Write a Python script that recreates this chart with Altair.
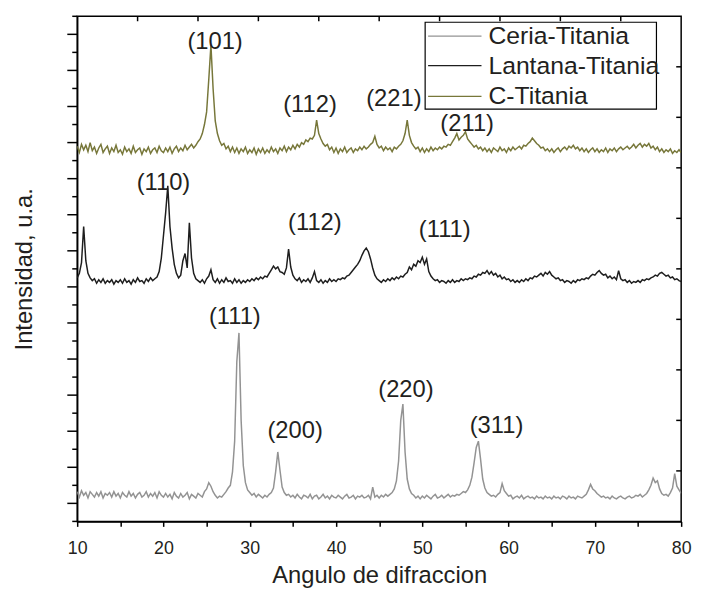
import altair as alt
import pandas as pd

# ---------------- data ----------------
SERIES = ["Ceria-Titania", "Lantana-Titania", "C-Titania"]
COLORS = ["#939393", "#1e1e1e", "#77773a"]
OFFSETS = [27, 267, 412]          # vertical stacking offsets (a.u.)
ANGLE_START = 10.0                # scan grid start (2theta)
ANGLE_STEP = 0.25                 # scan grid step

ceria = [
    6, 0, 7, 2, 5, -1, 6, 3, 0, 5, 1, 6, -1, 4, 2, 5, 0, 6, 1, 4,
    -1, 5, 2, 0, 6, 1, 4, -1, 3, 5, 0, 2, 6, 0, 4, 1, 5, -1, 6, 2,
    0, 4, 0, 3, -2, 5, 1, -1, 4, 0, 2, 5, -2, 3, 1, -1, 4, 2, 0, 6,
    9, 16, 12, 6, 2, -1, 1, 0, 3, 6, 10, 13, 28, 62, 150, 182, 85, 35, 16, 8,
    5, 2, 4, 0, 3, 1, -1, 2, 0, 3, 5, 10, 28, 50, 30, 11, 5, 2, 3, 0,
    2, -1, 3, 0, -2, 2, 1, -1, 3, -2, 1, 2, -2, 0, 3, -1, 1, -2, 2, 0,
    -1, 2, 0, -2, 1, 3, -1, 0, 2, -2, 1, 0, 2, -1, 0, 2, -2, 11, 0, 2,
    -1, 2, 0, 3, 1, 3, 5, 9, 18, 40, 85, 103, 50, 20, 9, 4, 2, -1, 1, -2,
    1, -1, 2, 0, -2, 1, 3, -1, 0, 2, -1, 1, 3, 0, 2, 1, 3, 2, 4, 6,
    5, 8, 13, 22, 38, 55, 62, 42, 20, 10, 5, 3, 1, 2, 0, 3, 5, 15, 7, 4,
    1, 2, -2, 0, 1, -1, 2, -2, 0, 1, -1, 0, -2, 1, -1, 0, -2, 1, -1, 0,
    -2, 1, -1, 0, -2, 1, 0, -2, 1, -1, 0, -2, 1, 0, -1, 1, 3, 8, 14, 9,
    7, 4, 2, 0, 1, -1, 0, -2, 1, -1, -2, 0, 1, -1, -2, 0, 1, -1, 0, 2,
    1, 3, 0, 2, 4, 8, 13, 21, 16, 18, 9, 4, 2, 3, 1, 5, 10, 26, 12, 8,
    4,
]

lantana = [
    3, 8, 20, 60, 22, 8, 3, 0, 2, -3, 1, -2, 2, -3, 0, -2, 1, -4, 0, -2,
    1, -3, 2, -2, 0, -4, 1, -2, 3, -1, 0, -3, 2, -1, 3, 0, 2, 4, 10, 25,
    50, 75, 105, 60, 36, 18, 8, 3, 6, 22, 30, 14, 64, 25, 8, 2, 0, -2, 1, -3,
    2, 5, 12, 1, -2, 2, -3, 1, -2, 3, -1, 0, -3, 2, -2, 1, -3, 0, -2, 1,
    -1, 2, 0, 3, 1, 4, 2, 5, 4, 8, 12, 16, 13, 15, 10, 9, 7, 14, 35, 15,
    6, 2, 0, 3, -2, 1, -1, 2, -2, 3, 10, 0, -2, 1, -3, 0, -2, 2, -1, 1,
    -1, 2, 1, 3, 2, 5, 6, 9, 12, 15, 18, 22, 28, 33, 36, 32, 24, 14, 6, 2,
    0, -2, 1, -1, 2, 0, 3, 1, 4, 2, 5, 4, 7, 9, 15, 12, 18, 16, 22, 20,
    26, 18, 24, 10, 5, 2, 0, 1, -2, 0, -1, -3, 0, -2, 1, -2, 0, -1, 2, 0,
    2, 1, 3, 2, 5, 4, 7, 6, 9, 8, 11, 7, 10, 6, 8, 4, 6, 2, 4, 1,
    2, -1, 1, -2, 0, -2, 1, -1, 2, 0, 3, 2, 5, 4, 6, 8, 5, 9, 7, 10,
    6, 4, 2, 3, 0, 1, -2, 0, -1, -3, 0, -2, 1, 0, 2, 1, 3, 2, 5, 7,
    6, 9, 11, 8, 6, 7, 3, 5, 2, 4, 1, 11, 2, 0, 1, -2, 0, -3, -1, -2,
    0, -2, 1, 0, 2, 1, 3, 4, 6, 5, 8, 9, 7, 5, 6, 3, 4, 1, 2, 0,
    -1,
]

c_titania = [
    4, -3, 6, 0, 5, -2, 8, -1, 3, -4, 2, 6, -3, 1, 4, -4, 2, -2, 5, -3,
    0, -5, 3, -2, 1, -4, 4, -3, 0, 2, -5, 1, -2, 3, -4, 0, 2, -3, 4, -1,
    -3, 2, -2, 3, -4, 1, 4, -2, 2, -1, 5, 0, 3, 6, 2, 5, 9, 12, 18, 28,
    42, 78, 116, 68, 32, 18, 10, 5, 7, 1, 4, -2, 3, -3, 2, -4, 1, -2, 3, -4,
    0, -3, 2, -5, 1, -3, 2, -4, 0, -3, 3, -2, 1, -4, 2, -1, 4, -2, 3, 0,
    5, 1, 6, 3, 8, 6, 11, 9, 13, 12, 16, 33, 18, 12, 7, 4, 6, 0, 3, -3,
    2, -4, 1, -2, 3, -3, 0, 2, -3, 1, -1, 3, 0, 4, 1, 3, 6, 8, 15, 6,
    2, 4, -1, 3, 0, 2, -2, 3, 1, 4, 6, 10, 18, 33, 16, 8, 4, 1, 3, -2,
    2, -3, 1, -2, 3, -1, 2, 0, 3, 1, 4, 3, 6, 5, 9, 13, 18, 11, 14, 16,
    20, 12, 9, 6, 3, 5, 1, 3, -1, 2, -2, 1, -3, 2, 0, -2, 3, -1, 1, -3,
    2, -1, 3, 0, 2, 4, 1, 5, 4, 7, 9, 13, 10, 7, 5, 2, 3, -1, 1, -2,
    1, -3, 0, 2, -2, 1, 3, 0, 4, 2, 5, 1, 3, -1, 2, -2, 1, -3, 0, 2,
    -2, 1, -3, 0, -2, 2, -3, 1, -1, 2, -2, 1, 3, 0, 2, 4, 1, 3, 6, 2,
    5, 7, 3, 6, 4, 7, 2, 4, 0, 3, -2, 1, -3, 0, -2, 1, -4, -1, -3, 0,
    -3,
]

PEAK_LABELS = ["(101)", "(112)", "(221)", "(211)",
               "(110)", "(112)", "(111)",
               "(111)", "(200)", "(220)", "(311)"]
PEAK_ANGLE = [25.98, 36.98, 46.7, 55.2,
              20.0, 37.55, 52.6,
              28.27, 35.26, 48.1, 58.6]
PEAK_LEVEL = [531, 462, 468, 440,
              375, 331, 323,
              227, 100, 146, 106]

LEFT_MAJOR = list(range(20, 560, 40))
LEFT_MINOR = list(range(0, 561, 40))
RIGHT_TICKS = [56, 112, 168, 224, 280, 336, 392, 448, 504]
TOP_TICKS = [17, 24, 31, 38, 45, 52, 59, 66, 73]
BOTTOM_TICKS = list(range(10, 81, 5))

# ---------------- build table ----------------
rows = []
for name, off, vals in zip(SERIES, OFFSETS, [ceria, lantana, c_titania]):
    for i, v in enumerate(vals):
        rows.append({"series": name,
                     "angle": ANGLE_START + ANGLE_STEP * i,
                     "intensity": v + off})
df = pd.DataFrame(rows)

FONT = "Liberation Sans"
TXT = "#231f20"
xscale = alt.Scale(domain=[10, 80], nice=False, zero=False)
yscale = alt.Scale(domain=[0, 560], nice=False, zero=False)

lines = alt.Chart(df).mark_line(strokeWidth=1.5, clip=True).encode(
    x=alt.X("angle:Q", scale=xscale,
            axis=alt.Axis(values=BOTTOM_TICKS,
                          labelExpr="datum.value % 10 == 0 ? datum.label : ''",
                          tickSize=5, tickWidth=1.5, tickColor="black",
                          domainColor="black", domainWidth=1.5,
                          labelFont=FONT, labelFontSize=18, labelColor=TXT,
                          labelPadding=13, labelFlush=False, grid=False,
                          title="Angulo de difraccion", titleFont=FONT,
                          titleFontSize=24, titleFontWeight="normal",
                          titleColor=TXT, titlePadding=7)),
    y=alt.Y("intensity:Q", scale=yscale,
            axis=alt.Axis(labels=False, ticks=False,
                          domainColor="black", domainWidth=1.5, grid=False,
                          title="Intensidad, u.a.", titleFont=FONT,
                          titleFontSize=24, titleFontWeight="normal",
                          titleColor=TXT, titlePadding=41)),
    color=alt.Color("series:N",
                    scale=alt.Scale(domain=SERIES, range=COLORS),
                    legend=None),
)


def tick_rules(values, field, **enc):
    return alt.Chart(pd.DataFrame({field: values})).mark_rule(
        color="black", strokeWidth=1.5).encode(**enc)


left_major = tick_rules(LEFT_MAJOR, "intensity",
                        y=alt.Y("intensity:Q", scale=yscale),
                        x=alt.value(-10), x2=alt.value(0))
left_minor = tick_rules(LEFT_MINOR, "intensity",
                        y=alt.Y("intensity:Q", scale=yscale),
                        x=alt.value(-5), x2=alt.value(0))
right = tick_rules(RIGHT_TICKS, "intensity",
                   y=alt.Y("intensity:Q", scale=yscale),
                   x=alt.value(606), x2=alt.value(611))
top = tick_rules(TOP_TICKS, "angle",
                 x=alt.X("angle:Q", scale=xscale),
                 y=alt.value(0), y2=alt.value(5))

labels_df = pd.DataFrame({"label": PEAK_LABELS, "angle": PEAK_ANGLE,
                          "intensity": PEAK_LEVEL})
text = alt.Chart(labels_df).mark_text(font=FONT, fontSize=24, color=TXT,
                                      align="center", baseline="middle").encode(
    x=alt.X("angle:Q", scale=xscale),
    y=alt.Y("intensity:Q", scale=yscale),
    text="label:N")

# ---------------- legend box (drawn by hand, as in the original) ----------------
box = alt.Chart(pd.DataFrame({"k": [0]})).mark_rect(
    fill="white", stroke="black", strokeWidth=1.2).encode(
    x=alt.value(352), x2=alt.value(586), y=alt.value(6), y2=alt.value(94))

ROW_Y = [20, 50, 81]
legend_layers = [box]
for name, col, ry in zip(SERIES, COLORS, ROW_Y):
    one = pd.DataFrame({"series": [name]})
    legend_layers.append(
        alt.Chart(one).mark_rule(color=col, strokeWidth=1.3).encode(
            x=alt.value(355), x2=alt.value(409), y=alt.value(ry)))
    legend_layers.append(
        alt.Chart(one).mark_text(font=FONT, fontSize=25, color=TXT,
                                 align="left", baseline="middle").encode(
            x=alt.value(416), y=alt.value(ry), text="series:N"))

chart = alt.layer(lines, left_major, left_minor, right, top, text,
                  *legend_layers).properties(
    width=611, height=511,
    padding={"left": 70, "top": 5, "right": 14, "bottom": 67},
    autosize=alt.AutoSizeParams(type="none"),
).configure_view(stroke="black", strokeWidth=1.5)

chart.save("out.html", embed_options={"renderer": "svg", "actions": False})
